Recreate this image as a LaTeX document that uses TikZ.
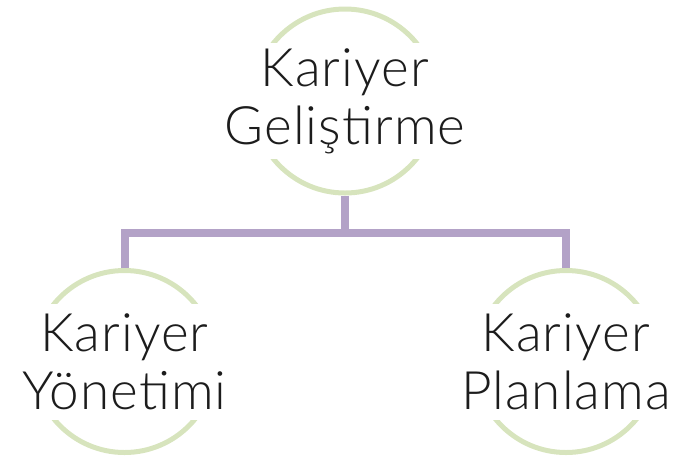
\documentclass[tikz,border=0pt]{standalone}
\usepackage{fontspec}
\setmainfont{Lato}[UprightFont={* Light},LetterSpace=2]
\definecolor{ringgreen}{HTML}{D7E4BD}
\definecolor{linkpurple}{HTML}{B3A2C7}
\definecolor{textdark}{HTML}{1C1C1C}
\begin{document}
\begin{tikzpicture}[x=1pt,y=-1pt,
  ring/.style={circle,draw=ringgreen,line width=5pt,minimum size=#1,inner sep=0pt},
  ring/.default=184pt,
  word/.style={fill=white,inner sep=0pt,minimum height=116pt,align=center,
    text=textdark,font=\fontsize{53}{58}\selectfont},
  link/.style={draw=linkpurple,line width=8pt,line join=miter}]
  \useasboundingbox (0,0) rectangle (682,459);
  % circles
  \node[ring] (top) at (345,101) {};
  \node[ring=182pt] (left) at (124.5,361.5) {};
  \node[ring=182pt] (right) at (566,361.5) {};
  \coordinate (bus) at (345,233);
  % connectors
  \path[link] (left.north) |- (bus) -| (right.north);
  \path[link] (top.south) -- (bus);
  % labels
  \node[word] (topword) at (top) {Kariyer\\Geliştirme};
  \node[word] (leftword) at (left) {Kariyer\\Yönetimi};
  \node[word] (rightword) at (right) {Kariyer\\Planlama};
\end{tikzpicture}
\end{document}
